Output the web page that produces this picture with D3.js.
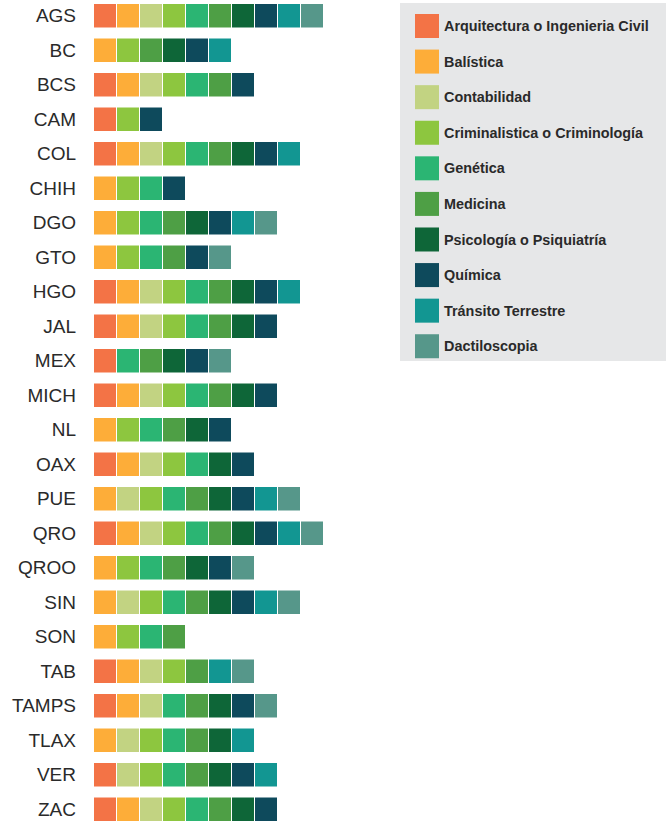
<!DOCTYPE html>
<html><head><meta charset="utf-8">
<script src="https://cdn.jsdelivr.net/npm/d3@7"></script>
<style>html,body{margin:0;padding:0;background:#fff;}svg{display:block;}</style>
</head><body>
<script>
const states = ["AGS","BC","BCS","CAM","COL","CHIH","DGO","GTO","HGO","JAL","MEX","MICH","NL","OAX","PUE","QRO","QROO","SIN","SON","TAB","TAMPS","TLAX","VER","ZAC"];
const specialties = ["Arquitectura o Ingenieria Civil","Balística","Contabilidad","Criminalistica o Criminología","Genética","Medicina","Psicología o Psiquiatría","Química","Tránsito Terrestre","Dactiloscopia"];
const colors = ["#F37346","#FDAD39","#C2D382","#8DC63F","#2BB573","#4E9F45","#0E6638","#0E4A5C","#129692","#56978A"];
// indices into specialties, per state
const presence = [
  [0,1,2,3,4,5,6,7,8,9],
  [1,3,5,6,7,8],
  [0,1,2,3,4,5,7],
  [0,3,7],
  [0,1,2,3,4,5,6,7,8],
  [1,3,4,7],
  [1,3,4,5,6,7,8,9],
  [1,3,4,5,7,9],
  [0,1,2,3,4,5,6,7,8],
  [0,1,2,3,4,5,6,7],
  [0,4,5,6,7,9],
  [0,1,2,3,4,5,6,7],
  [1,3,4,5,6,7],
  [0,1,2,3,4,6,7],
  [1,2,3,4,5,6,7,8,9],
  [0,1,2,3,4,5,6,7,8,9],
  [1,3,4,5,6,7,9],
  [1,2,3,4,5,6,7,8,9],
  [1,3,4,5],
  [0,1,2,3,5,8,9],
  [0,1,2,4,5,6,7,9],
  [1,2,3,4,5,6,8],
  [0,2,3,4,5,6,7,8],
  [0,1,2,3,4,5,6,7]
];

const W = 666, H = 822;
const svg = d3.select("body").append("svg").attr("width", W).attr("height", H);

const y = d3.scaleBand().domain(states).range([4, 821]).paddingInner(0.319).paddingOuter(0);
const x = d3.scaleLinear().domain([0, 10]).range([94, 324]);
const color = d3.scaleOrdinal().domain(specialties).range(colors);

const rows = svg.append("g").selectAll("g").data(states).join("g")
  .attr("transform", d => `translate(0,${y(d)})`);

rows.append("text")
  .attr("x", 76).attr("y", y.bandwidth()/2)
  .attr("text-anchor", "end").attr("dominant-baseline", "central")
  .style("font-family", "'Liberation Sans', Arial, sans-serif")
  .style("font-size", "19px").attr("fill", "#2a2a2a")
  .text(d => d);

rows.selectAll("rect").data((d, i) => presence[i].map((s, j) => ({ s: specialties[s], j })))
  .join("rect")
  .attr("x", d => x(d.j)).attr("y", 0)
  .attr("width", x(1) - x(0) - 1).attr("height", y.bandwidth())
  .attr("fill", d => color(d.s));

// legend
const lg = svg.append("g");
lg.append("rect").attr("x", 400).attr("y", 3).attr("width", 266).attr("height", 358).attr("fill", "#E6E7E8");
const ly = d3.scaleBand().domain(specialties).range([14, 14 + 34.5 * 10]).paddingInner(0.304).paddingOuter(0);
const items = lg.selectAll("g.item").data(specialties).join("g").attr("class", "item")
  .attr("transform", d => `translate(415,${ly(d)})`);
items.append("rect").attr("width", 24).attr("height", 24).attr("fill", d => color(d));
const labels = items.append("g").attr("transform", "translate(29,12)")
  .append("text").attr("x", 0).attr("y", 0).attr("dominant-baseline", "central")
  .style("font-family", "'Liberation Sans', Arial, sans-serif")
  .style("font-weight", "bold").style("font-size", "15px").attr("fill", "#2a2a2a")
  .text(d => d);
// condense the legend type to the width of the reference's condensed face
const maxLen = d3.max(labels.nodes(), n => n.getComputedTextLength());
const k = 205 / maxLen;
labels.attr("transform", `scale(${k},1)`);
</script>
</body></html>
